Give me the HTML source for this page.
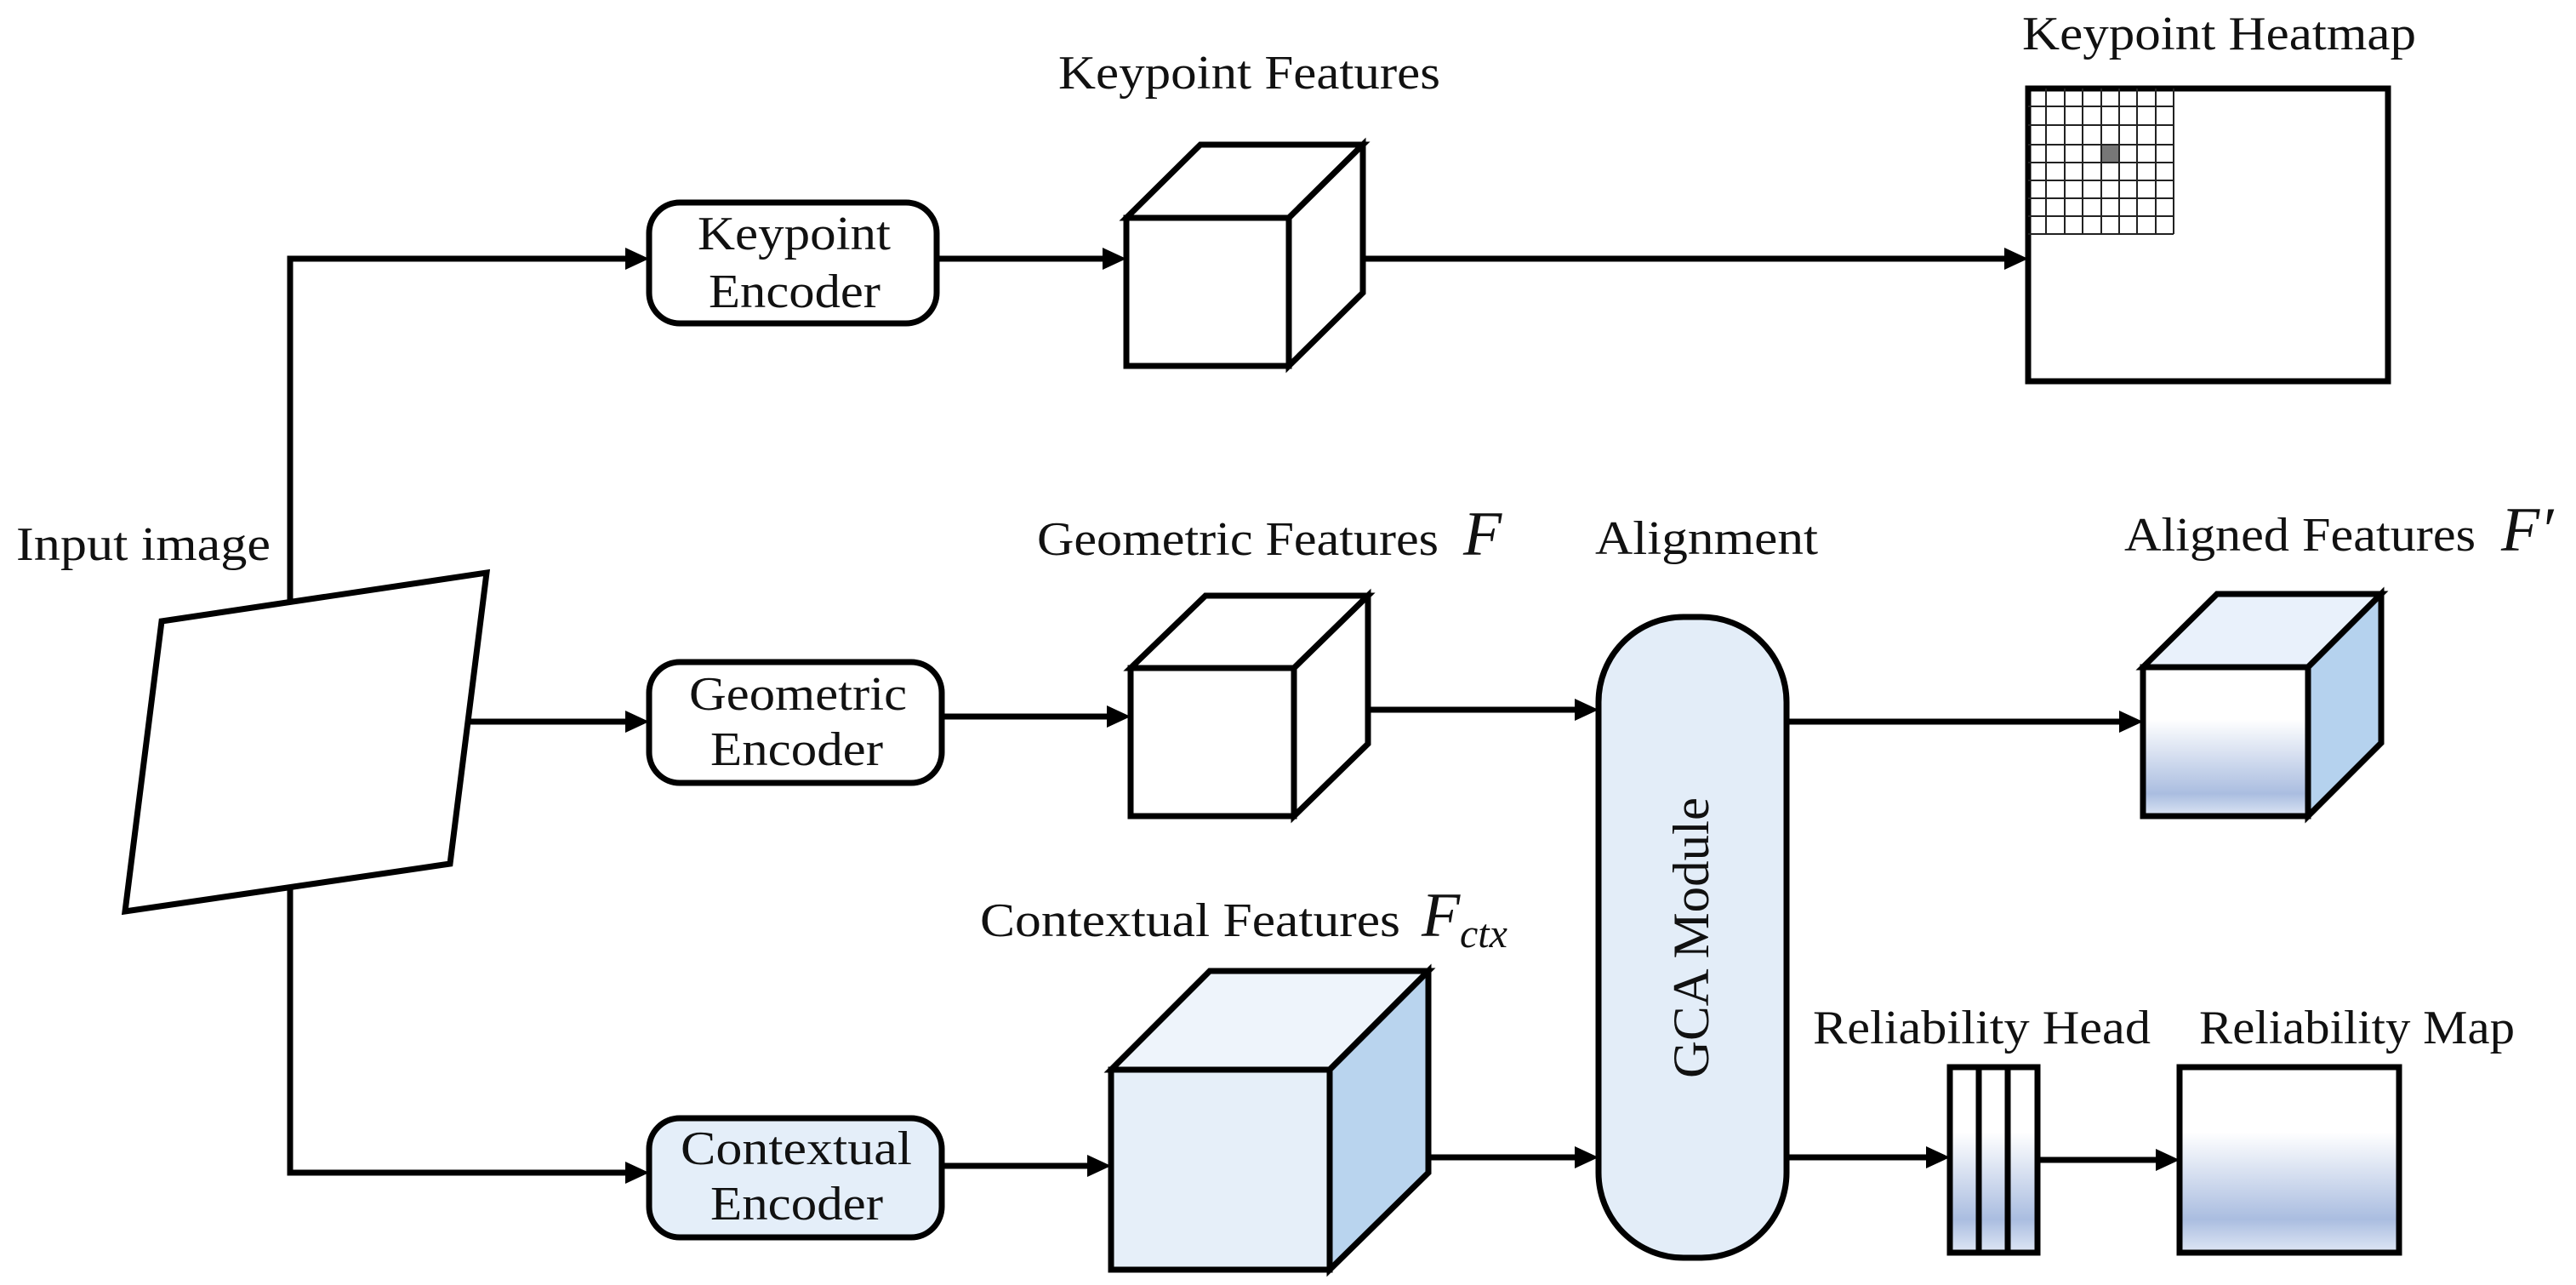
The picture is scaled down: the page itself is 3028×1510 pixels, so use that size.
<!DOCTYPE html>
<html><head><meta charset="utf-8"><style>
html,body{margin:0;padding:0;background:#fff;}
svg{display:block;}
text{font-family:"Liberation Serif",serif;fill:#111;}
</style></head><body>
<svg width="3028" height="1510" viewBox="0 0 3028 1510" xmlns="http://www.w3.org/2000/svg">
<defs>
<linearGradient id="gfront" x1="0" y1="0" x2="0" y2="1">
<stop offset="0" stop-color="#ffffff"/><stop offset="0.35" stop-color="#ffffff"/><stop offset="0.85" stop-color="#aabde0"/><stop offset="1" stop-color="#dce5f4"/>
</linearGradient>
<linearGradient id="gmap" x1="0" y1="0" x2="0" y2="1">
<stop offset="0" stop-color="#ffffff"/><stop offset="0.35" stop-color="#ffffff"/><stop offset="0.82" stop-color="#aabde0"/><stop offset="1" stop-color="#dfe7f5"/>
</linearGradient>
</defs>
<g stroke="#000" stroke-width="7" fill="none" stroke-linejoin="miter">
<polygon points="190,730 572,673 529,1015 147,1071" fill="#fff"/>
<polyline points="341,707 341,304 740,304"/>
<polyline points="341,1043 341,1378 740,1378"/>
<line x1="550" y1="848" x2="740" y2="848"/>
<line x1="1101" y1="304" x2="1300" y2="304"/>
<line x1="1107" y1="842" x2="1306" y2="842"/>
<line x1="1107" y1="1370" x2="1284" y2="1370"/>
<line x1="1602" y1="304" x2="2358" y2="304"/>
<line x1="1608" y1="834" x2="1854" y2="834"/>
<line x1="1679" y1="1360" x2="1854" y2="1360"/>
<line x1="2100" y1="848" x2="2496" y2="848"/>
<line x1="2100" y1="1360" x2="2270" y2="1360"/>
<line x1="2395" y1="1363" x2="2540" y2="1363"/>
<rect x="763" y="238" width="338" height="142" rx="36" fill="#fff"/>
<rect x="763" y="778" width="344" height="142" rx="36" fill="#fff"/>
<rect x="763" y="1314" width="344" height="140" rx="36" fill="#e4eef9"/>
<polygon points="1324,256 1411,170 1602,170 1515,256" fill="#fff"/>
<polygon points="1515,256 1602,170 1602,344 1515,430" fill="#fff"/>
<rect x="1324" y="256" width="191" height="174" fill="#fff"/>
<polygon points="1329,785 1417,700 1608,700 1521,785" fill="#fff"/>
<polygon points="1521,785 1608,700 1608,874 1521,959" fill="#fff"/>
<rect x="1329" y="785" width="192" height="174" fill="#fff"/>
<polygon points="1306,1257 1422,1141 1679,1141 1563,1257" fill="#eef4fb"/>
<polygon points="1563,1257 1679,1141 1679,1378 1563,1492" fill="#b9d4ee"/>
<rect x="1306" y="1257" width="257" height="235" fill="#e6eff9"/>
<rect x="1879" y="725" width="221" height="753" rx="100" fill="#e3edf8"/>
<polygon points="2519,784 2606,698 2799,698 2713,784" fill="#e9f1fb"/>
<polygon points="2713,784 2799,698 2799,873 2713,959" fill="#b5d2ee"/>
<rect x="2519" y="784" width="194" height="175" fill="url(#gfront)"/>
<rect x="2292" y="1254" width="103" height="218" fill="url(#gmap)"/>
<line x1="2326" y1="1254" x2="2326" y2="1472"/>
<line x1="2360" y1="1254" x2="2360" y2="1472"/>
<rect x="2562" y="1254" width="258" height="218" fill="url(#gmap)"/>
<rect x="2384" y="104" width="423" height="344" fill="#fff"/>
</g>
<g stroke="#222" stroke-width="2">
<rect x="2470" y="170" width="21" height="21" fill="#777" stroke="none"/>
<line x1="2384" y1="125" x2="2555" y2="125"/><line x1="2384" y1="147" x2="2555" y2="147"/>
<line x1="2384" y1="170" x2="2555" y2="170"/><line x1="2384" y1="191" x2="2555" y2="191"/>
<line x1="2384" y1="212" x2="2555" y2="212"/><line x1="2384" y1="233" x2="2555" y2="233"/>
<line x1="2384" y1="254" x2="2555" y2="254"/><line x1="2384" y1="275" x2="2555" y2="275"/>
<line x1="2405" y1="104" x2="2405" y2="275"/><line x1="2427" y1="104" x2="2427" y2="275"/>
<line x1="2448" y1="104" x2="2448" y2="275"/><line x1="2470" y1="104" x2="2470" y2="275"/>
<line x1="2491" y1="104" x2="2491" y2="275"/><line x1="2512" y1="104" x2="2512" y2="275"/>
<line x1="2534" y1="104" x2="2534" y2="275"/><line x1="2555" y1="104" x2="2555" y2="275"/>
</g>
<g fill="#000">
<polygon points="763,304 735,291 735,317"/>
<polygon points="763,848 735,835 735,861"/>
<polygon points="763,1378 735,1365 735,1391"/>
<polygon points="1324,304 1296,291 1296,317"/>
<polygon points="1329,842 1301,829 1301,855"/>
<polygon points="1306,1370 1278,1357 1278,1383"/>
<polygon points="2384,304 2356,291 2356,317"/>
<polygon points="1879,834 1851,821 1851,847"/>
<polygon points="1879,1360 1851,1347 1851,1373"/>
<polygon points="2519,848 2491,835 2491,861"/>
<polygon points="2292,1360 2264,1347 2264,1373"/>
<polygon points="2562,1363 2534,1350 2534,1376"/>
</g>
<g font-size="56">
<text x="19" y="658" textLength="299" lengthAdjust="spacingAndGlyphs">Input image</text>
<text x="820" y="293" textLength="227" lengthAdjust="spacingAndGlyphs">Keypoint</text>
<text x="833" y="361" textLength="202" lengthAdjust="spacingAndGlyphs">Encoder</text>
<text x="810" y="834" textLength="256" lengthAdjust="spacingAndGlyphs">Geometric</text>
<text x="835" y="899" textLength="203" lengthAdjust="spacingAndGlyphs">Encoder</text>
<text x="800" y="1368" textLength="272" lengthAdjust="spacingAndGlyphs">Contextual</text>
<text x="835" y="1433" textLength="203" lengthAdjust="spacingAndGlyphs">Encoder</text>
<text x="1244" y="104" textLength="449" lengthAdjust="spacingAndGlyphs">Keypoint Features</text>
<text x="2377" y="58" textLength="463" lengthAdjust="spacingAndGlyphs">Keypoint Heatmap</text>
<text x="1219" y="652" textLength="472" lengthAdjust="spacingAndGlyphs">Geometric Features</text>
<text x="1875" y="651" textLength="262" lengthAdjust="spacingAndGlyphs">Alignment</text>
<text x="2497" y="647" textLength="413" lengthAdjust="spacingAndGlyphs">Aligned Features</text>
<text x="1152" y="1100" textLength="494" lengthAdjust="spacingAndGlyphs">Contextual Features</text>
<text x="2131" y="1226" textLength="397" lengthAdjust="spacingAndGlyphs">Reliability Head</text>
<text x="2585" y="1226" textLength="371" lengthAdjust="spacingAndGlyphs">Reliability Map</text>
</g>
<g font-style="italic">
<text x="1720" y="652" font-size="74">F</text>
<text x="2940" y="647" font-size="74">F′</text>
<text x="1671" y="1100" font-size="74">F</text>
<text x="1716" y="1113" font-size="48">ctx</text>
</g>
<text x="0" y="0" font-size="60" transform="translate(2008,1102) rotate(-90)" text-anchor="middle" textLength="330" lengthAdjust="spacingAndGlyphs">GCA Module</text>
</svg>
</body></html>
